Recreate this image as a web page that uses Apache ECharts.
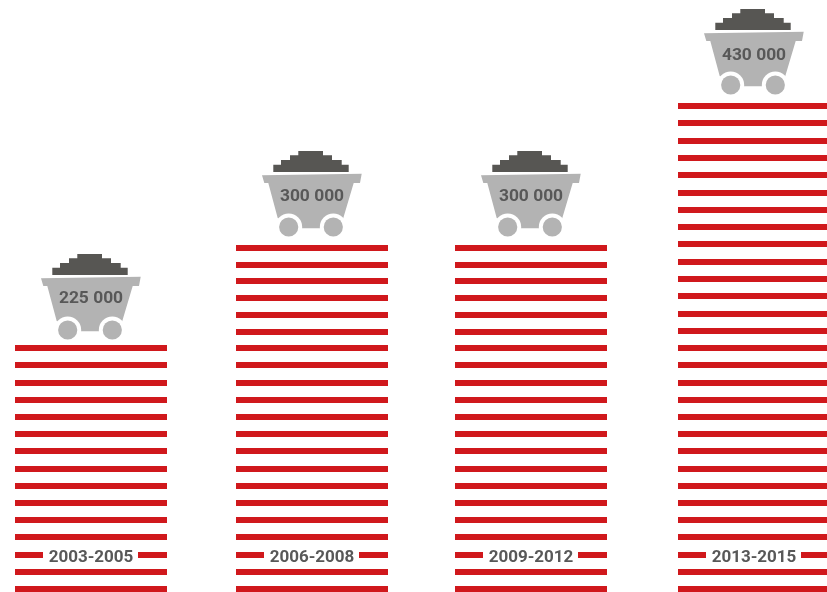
<!DOCTYPE html>
<html><head><meta charset="utf-8">
<style>html,body{margin:0;padding:0;background:#fff}#c{width:827px;height:592px}</style>
<script src="https://cdn.jsdelivr.net/npm/echarts@6/dist/echarts.min.js"></script>
</head><body><div id="c"></div>
<script>
const periods = ['2003-2005','2006-2008','2009-2012','2013-2015'];
const production = [225000,300000,300000,430000];
const productionLabels = ['225 000','300 000','300 000','430 000'];
const stripeCounts = [15,21,21,29];
const stackHeights = [247,347,347,489];

// drawing style
const RED='#d0181c', CART='#b3b3b3', COAL='#575653', TEXT='#585858';
const BAR_W=152, STRIPE_H=6, LABEL_ROW=2, LOWER_ROWS=15, LOWER_STEP=17.2;
const colNudge=[0,0,-2,0], cartLift=[0,3,3,3], textNudge=[0.5,1,1,2];
const coalShape=[[-38.7,-70],[-38.7,-77.3],[-31,-77.3],[-31,-82],[-22,-82],[-22,-86.7],[-13.7,-86.7],[-13.7,-91],[11,-91],[11,-86.7],[20,-86.7],[20,-82],[29.7,-82],[29.7,-77.3],[36.7,-77.3],[36.7,-70]];
const cartShape=[[-50,-66.7],[49.7,-68.3],[48,-59],[41.7,-59],[31,-23],[8,-13.7],[-10,-13.7],[-34.3,-24],[-43.7,-59],[-47.7,-59]];

function renderItem(params, api){
  const i=params.dataIndex;
  const base=api.coord([i,0]);
  const top=api.coord([i,api.value(1)]);
  const cx=base[0]+colNudge[i], bottom=base[1], x0=Math.round(cx-BAR_W/2);
  const n=stripeCounts[i];
  const lowerTop=(LOWER_ROWS-1)*LOWER_STEP;
  const upperStep=n>LOWER_ROWS?(bottom-top[1]-STRIPE_H-lowerTop)/(n-LOWER_ROWS):0;
  const kids=[];
  for(let k=0;k<n;k++){
    const off=k<LOWER_ROWS?k*LOWER_STEP:lowerTop+(k-LOWER_ROWS+1)*upperStep;
    const y=Math.round(bottom-STRIPE_H-off);
    const st={fill:RED};
    if(k===LABEL_ROW){
      kids.push({type:'rect',shape:{x:x0,y,width:28,height:STRIPE_H},style:st});
      kids.push({type:'rect',shape:{x:x0+123,y,width:29,height:STRIPE_H},style:st});
      kids.push({type:'text',style:{text:periods[i],x:x0+76,y:y+5.5,align:'center',verticalAlign:'middle',fill:TEXT,font:'700 17px Roboto'}});
    } else {
      kids.push({type:'rect',shape:{x:x0,y,width:BAR_W,height:STRIPE_H},style:st});
    }
  }
  const ax=x0+75, ay=Math.round(top[1])-cartLift[i];
  const pts=s=>s.map(p=>[ax+p[0]+1,ay+p[1]]);
  kids.push({type:'polygon',shape:{points:pts(coalShape)},style:{fill:COAL}});
  kids.push({type:'polygon',shape:{points:pts(cartShape)},style:{fill:CART}});
  [-23.3,21.3].forEach(dx=>{
    kids.push({type:'circle',shape:{cx:ax+1+dx,cy:ay-15,r:13.5},style:{fill:'#fff'}});
    kids.push({type:'circle',shape:{cx:ax+1+dx,cy:ay-15,r:9.6},style:{fill:CART}});
  });
  kids.push({type:'text',style:{text:productionLabels[i],x:ax+1,y:ay-46.5+textNudge[i],align:'center',verticalAlign:'middle',fill:TEXT,font:'700 17.4px Roboto'}});
  return {type:'group',children:kids};
}

const chart=echarts.init(document.getElementById('c'),null,{renderer:'canvas'});
chart.setOption({
  animation:false,
  backgroundColor:'#fff',
  grid:{left:-19.5,top:0,width:884,height:592,containLabel:false,outerBoundsMode:'none'},
  xAxis:{type:'category',data:periods,show:false},
  yAxis:{type:'value',min:0,max:592,show:false},
  series:[{type:'custom',clip:false,renderItem,
    data:stackHeights.map((h,i)=>[i,h,production[i]]),
    encode:{x:0,y:1}}]
});
</script></body></html>
